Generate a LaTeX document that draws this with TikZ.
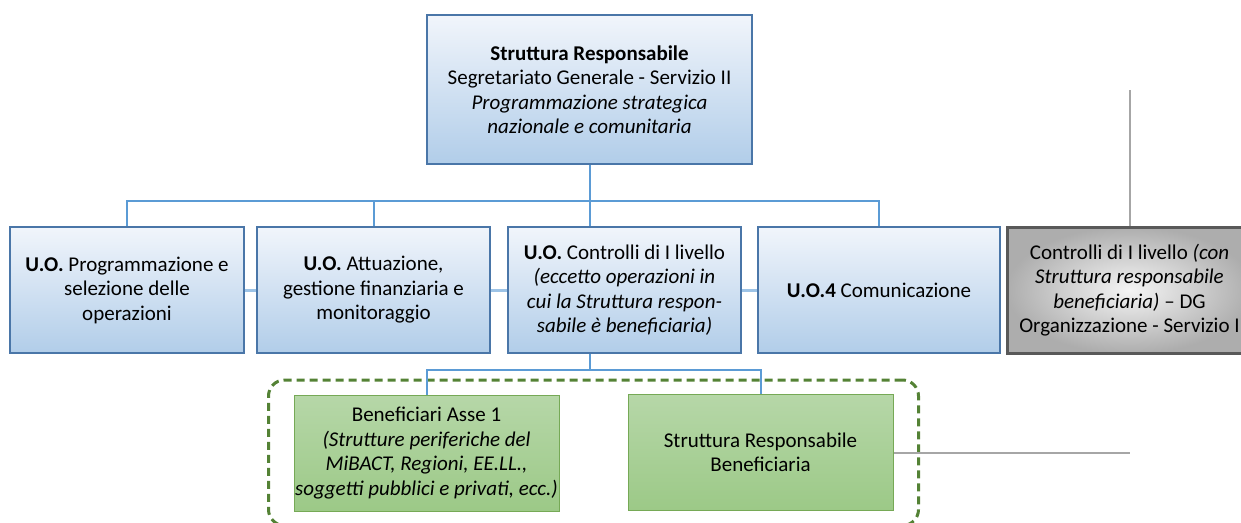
\documentclass[tikz,border=0pt]{standalone}
\usepackage{fontspec}
\setmainfont{Carlito}
\usepackage{tikz}
\usetikzlibrary{positioning,fit,calc}
\definecolor{boxline}{HTML}{4A76A8}
\definecolor{boxtop}{HTML}{F1F5FB}
\definecolor{boxbot}{HTML}{B1CDE9}
\definecolor{link}{HTML}{5B9BD5}
\definecolor{stub}{HTML}{9DC3E6}
\definecolor{gtop}{HTML}{B6D7A8}
\definecolor{gbot}{HTML}{9CC987}
\definecolor{gline}{HTML}{76A956}
\definecolor{gdash}{HTML}{548235}
\definecolor{greyline}{HTML}{A6A6A6}
\definecolor{greyedge}{HTML}{595959}

\tikzset{
  uobox/.style={draw=boxline, line width=2.5pt, top color=boxtop, bottom color=boxbot,
    minimum height=126pt, align=center, inner sep=0pt},
  benbox/.style={draw=gline, line width=1pt, top color=gtop, bottom color=gbot,
    minimum width=265pt, minimum height=116pt, align=center, inner sep=0pt},
  conn/.style={draw=link, line width=2pt},
  stubline/.style={draw=stub, line width=3pt},
  greyconn/.style={draw=greyline, line width=2pt},
}

\begin{document}
\begin{tikzpicture}[x=1pt,y=-1pt,font=\fontsize{21pt}{24.5pt}\selectfont]
\useasboundingbox (0,0) rectangle (1241,522);
% top box
\node[uobox, minimum width=325pt, minimum height=149pt] (SR) at (589.5,89.5)
  {\textbf{Struttura Responsabile}\\Segretariato Generale - Servizio II\\
   \textit{Programmazione strategica}\\\textit{nazionale e comunitaria}};
% U.O. row
\node[uobox, minimum width=234pt] (UO1) at (127,290)
  {\textbf{U.O.} Programmazione e\\selezione delle\\operazioni};
\node[uobox, minimum width=233pt] (UO2) at (373.5,290)
  {\textbf{U.O.} Attuazione,\\gestione finanziaria e\\monitoraggio};
\node[uobox, minimum width=233pt] (UO3) at (624.5,290)
  {\textbf{U.O.} Controlli di I livello\\\textit{(eccetto operazioni in}\\
   \textit{cui la Struttura respon-}\\\textit{sabile è beneficiaria)}};
\node[uobox, minimum width=242pt] (UO4) at (879,290) {\textbf{U.O.4} Comunicazione};
\node[draw=greyedge, line width=3pt, shading=radial, inner color=white!96!black,
  outer color=black!32, minimum width=245pt, minimum height=126pt, align=center,
  inner sep=0pt] (CT) at (1129.5,290)
  {Controlli di I livello \textit{(con}\\\textit{Struttura responsabile}\\
   \textit{beneficiaria)} -- DG\\Organizzazione - Servizio I};
% beneficiari
\node[benbox] (B1) at (426.5,453)
  {Beneficiari Asse 1\\\textit{(Strutture periferiche del}\\
   \textit{MiBACT, Regioni, EE.LL.,}\\\textit{soggetti pubblici e privati, ecc.)}};
\node[benbox] (SB) at (760.5,452.5) {Struttura Responsabile\\Beneficiaria};
\node[draw=gdash, line width=3pt, dash pattern=on 8pt off 5pt, rounded corners=16pt,
  inner xsep=25pt, inner ysep=14pt, fit=(B1)(SB)] (GR) {};
% connectors
\draw[conn] (SR.south) -- (SR.south |- UO3.north);
\draw[conn] (UO1.north) -- ++(0,-25) -| (UO4.north);
\draw[conn] (UO2.north) -- ++(0,-25);
\draw[conn] (SR.south |- UO3.south) -- ++(0,16) coordinate (J);
\draw[conn] (B1.north) |- (J) -| (SB.north);
\draw[stubline] (UO1.east) -- (UO2.west);
\draw[stubline] (UO2.east) -- (UO3.west);
\draw[stubline] (UO3.east) -- (UO4.west);
\coordinate (T) at (1129.5,90);
\coordinate (R) at (1129.5,452.5);
\draw[greyconn] (CT.north) -- (T);
\draw[greyconn] (SB.east) -- (R);
\end{tikzpicture}
\end{document}
